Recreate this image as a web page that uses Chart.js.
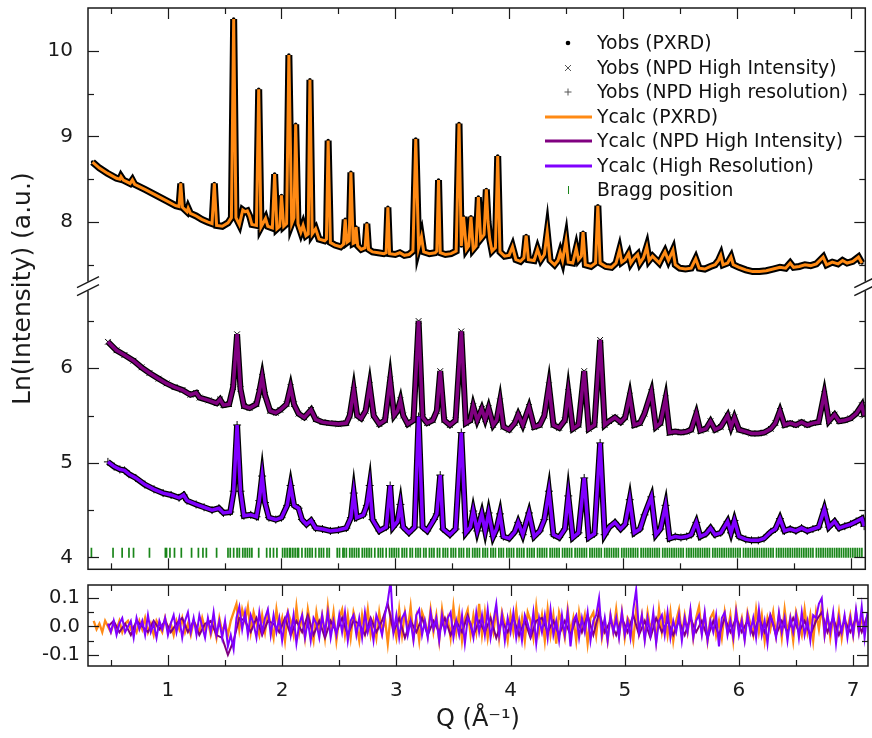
<!DOCTYPE html>
<html>
<head>
<meta charset="utf-8">
<script src="https://cdn.jsdelivr.net/npm/chart.js@4.4.1/dist/chart.umd.min.js"></script>
<style>
  html, body { margin: 0; padding: 0; background: #fff; }
  #wrap { position: relative; width: 872px; height: 738px; overflow: hidden; font-family: 'DejaVu Sans', Verdana, sans-serif; }
  #mainChart { position: absolute; left: 0; top: 0; }
  #residChart { position: absolute; left: 0; top: 576px; }
  .leg { position: absolute; left: 597px; font-size: 18.8px; line-height: 22px; color: #111; white-space: nowrap; }
  .sym { position: absolute; left: 540px; width: 56px; height: 22px; }
</style>
</head>
<body>
<div id="wrap">
  <canvas id="mainChart" width="872" height="576"></canvas>
  <canvas id="residChart" width="872" height="162"></canvas>
  <div id="legend"></div>
</div>
<script>
// Q axis
const qMin = 0.3, qMax = 7.13;
const xMajorTicks = [1, 2, 3, 4, 5, 6, 7];
const xMinorTicks = [0.5, 1.5, 2.5, 3.5, 4.5, 5.5, 6.5];
const yTopTicks = [8, 9, 10];
const yTopMinor = [7.5, 8.5, 9.5];
const yBotTicks = [4, 5, 6];
const yBotMinor = [4.5, 5.5, 6.5];
const residTicks = [-0.1, 0, 0.1];
const residMinor = [-0.05, 0.05];

// [Q, ln(I)]
const pxrdProfile = [[0.34,8.70],[0.40,8.63],[0.47,8.57],[0.55,8.51],[0.58,8.50],[0.59,8.53],[0.61,8.49],[0.67,8.45],[0.69,8.49],[0.71,8.44],[0.80,8.38],[0.90,8.31],[1.00,8.24],[1.07,8.19],[1.10,8.18],[1.115,8.45],[1.13,8.17],[1.17,8.12],[1.18,8.16],[1.20,8.10],[1.25,8.07],[1.30,8.03],[1.35,8.00],[1.39,7.98],[1.41,8.45],[1.43,7.96],[1.48,7.95],[1.53,7.99],[1.56,8.05],[1.58,10.37],[1.60,8.05],[1.63,7.97],[1.66,8.14],[1.68,8.12],[1.70,8.13],[1.72,8.07],[1.74,7.97],[1.78,7.96],[1.80,9.55],[1.82,7.94],[1.86,8.04],[1.88,7.95],[1.92,7.93],[1.94,8.56],[1.96,7.92],[1.985,7.95],[2.00,8.31],[2.02,7.95],[2.045,7.98],[2.065,9.95],[2.09,7.98],[2.11,8.05],[2.125,9.14],[2.145,7.98],[2.17,7.88],[2.19,7.96],[2.215,7.84],[2.235,7.86],[2.25,9.66],[2.27,7.86],[2.30,7.92],[2.33,7.80],[2.38,7.78],[2.395,7.80],[2.41,8.95],[2.43,7.76],[2.47,7.73],[2.52,7.71],[2.545,7.74],[2.56,8.03],[2.575,7.76],[2.595,7.78],[2.61,8.58],[2.63,7.75],[2.645,7.76],[2.655,7.94],[2.67,7.72],[2.70,7.68],[2.735,7.70],[2.75,7.98],[2.765,7.68],[2.80,7.65],[2.85,7.64],[2.90,7.63],[2.92,7.64],[2.935,8.17],[2.95,7.63],[3.00,7.62],[3.04,7.64],[3.08,7.61],[3.12,7.62],[3.155,7.66],[3.18,8.97],[3.205,7.70],[3.23,7.83],[3.25,7.65],[3.30,7.63],[3.35,7.64],[3.365,7.66],[3.38,8.49],[3.395,7.64],[3.44,7.62],[3.49,7.63],[3.535,7.66],[3.56,9.15],[3.58,7.72],[3.60,8.06],[3.625,7.68],[3.645,7.72],[3.665,8.06],[3.685,7.68],[3.71,7.72],[3.73,8.29],[3.75,7.80],[3.78,7.85],[3.80,8.38],[3.815,8.00],[3.83,7.80],[3.85,7.66],[3.88,7.70],[3.90,8.77],[3.92,7.65],[3.96,7.60],[4.00,7.61],[4.03,7.71],[4.06,7.56],[4.10,7.54],[4.13,7.58],[4.15,7.84],[4.17,7.56],[4.22,7.55],[4.25,7.68],[4.28,7.56],[4.31,7.62],[4.335,7.88],[4.36,7.55],[4.40,7.50],[4.43,7.55],[4.45,7.64],[4.47,7.55],[4.50,7.78],[4.52,7.53],[4.56,7.52],[4.59,7.69],[4.61,7.56],[4.635,7.60],[4.65,7.88],[4.67,7.50],[4.72,7.48],[4.76,7.52],[4.78,8.19],[4.80,7.52],[4.85,7.48],[4.90,7.47],[4.94,7.52],[4.97,7.67],[4.99,7.53],[5.02,7.56],[5.05,7.63],[5.07,7.52],[5.10,7.58],[5.13,7.62],[5.15,7.52],[5.18,7.58],[5.21,7.71],[5.23,7.55],[5.26,7.60],[5.29,7.56],[5.32,7.52],[5.35,7.60],[5.37,7.65],[5.40,7.55],[5.44,7.67],[5.46,7.50],[5.50,7.46],[5.55,7.45],[5.60,7.46],[5.64,7.57],[5.67,7.46],[5.72,7.45],[5.77,7.48],[5.81,7.50],[5.84,7.55],[5.86,7.61],[5.88,7.50],[5.92,7.52],[5.95,7.59],[5.97,7.50],[6.02,7.47],[6.08,7.44],[6.14,7.42],[6.20,7.42],[6.26,7.43],[6.32,7.45],[6.38,7.47],[6.43,7.46],[6.47,7.52],[6.50,7.47],[6.55,7.48],[6.60,7.50],[6.65,7.49],[6.70,7.51],[6.76,7.59],[6.79,7.50],[6.84,7.53],[6.89,7.51],[6.93,7.55],[6.97,7.52],[7.02,7.54],[7.07,7.59],[7.10,7.52]];

const npdHiProfile = [[0.475,6.28],[0.55,6.19],[0.62,6.14],[0.70,6.08],[0.77,6.01],[0.84,5.95],[0.92,5.89],[0.99,5.84],[1.06,5.80],[1.13,5.77],[1.20,5.72],[1.25,5.74],[1.28,5.69],[1.36,5.66],[1.43,5.63],[1.46,5.67],[1.49,5.61],[1.54,5.62],[1.575,5.80],[1.61,6.36],[1.64,5.78],[1.67,5.60],[1.72,5.58],[1.78,5.62],[1.805,5.75],[1.83,5.91],[1.855,5.72],[1.90,5.55],[1.95,5.53],[1.99,5.56],[2.045,5.62],[2.08,5.80],[2.11,5.62],[2.15,5.52],[2.20,5.48],[2.26,5.56],[2.30,5.46],[2.36,5.43],[2.42,5.42],[2.50,5.41],[2.57,5.42],[2.60,5.50],[2.635,5.77],[2.665,5.50],[2.70,5.47],[2.74,5.55],[2.775,5.82],[2.81,5.50],[2.86,5.41],[2.91,5.45],[2.955,5.88],[2.99,5.50],[3.02,5.55],[3.045,5.66],[3.07,5.50],[3.11,5.41],[3.16,5.45],[3.205,6.50],[3.24,5.48],[3.28,5.42],[3.33,5.45],[3.365,5.55],[3.395,5.97],[3.43,5.45],[3.48,5.40],[3.53,5.45],[3.58,6.39],[3.62,5.42],[3.66,5.45],[3.685,5.60],[3.72,5.45],[3.76,5.57],[3.79,5.46],[3.82,5.58],[3.86,5.40],[3.89,5.45],[3.92,5.65],[3.95,5.38],[4.00,5.35],[4.05,5.42],[4.08,5.51],[4.12,5.40],[4.175,5.59],[4.22,5.38],[4.27,5.40],[4.31,5.50],[4.35,5.82],[4.39,5.40],[4.44,5.37],[4.49,5.45],[4.52,5.75],[4.56,5.36],[4.61,5.40],[4.66,5.97],[4.70,5.36],[4.75,5.40],[4.80,6.30],[4.84,5.40],[4.88,5.44],[4.93,5.48],[4.98,5.43],[5.02,5.48],[5.06,5.71],[5.10,5.40],[5.15,5.42],[5.19,5.52],[5.25,5.75],[5.29,5.38],[5.33,5.42],[5.375,5.68],[5.41,5.32],[5.46,5.33],[5.51,5.32],[5.56,5.33],[5.60,5.35],[5.645,5.52],[5.68,5.34],[5.73,5.36],[5.77,5.44],[5.81,5.35],[5.86,5.38],[5.92,5.50],[5.95,5.38],[5.98,5.48],[6.02,5.35],[6.08,5.33],[6.13,5.31],[6.19,5.31],[6.24,5.32],[6.30,5.36],[6.34,5.42],[6.38,5.55],[6.42,5.40],[6.47,5.42],[6.52,5.40],[6.57,5.43],[6.62,5.40],[6.67,5.42],[6.72,5.43],[6.77,5.73],[6.81,5.44],[6.86,5.51],[6.90,5.44],[6.95,5.45],[7.00,5.47],[7.05,5.52],[7.10,5.61],[7.12,5.50]];

const npdHrProfile = [[0.475,5.01],[0.53,4.96],[0.58,4.93],[0.62,4.92],[0.66,4.88],[0.72,4.84],[0.80,4.77],[0.88,4.72],[0.96,4.68],[1.03,4.66],[1.10,4.63],[1.14,4.66],[1.17,4.60],[1.25,4.56],[1.32,4.53],[1.39,4.50],[1.45,4.52],[1.49,4.47],[1.55,4.48],[1.58,4.70],[1.61,5.40],[1.64,4.70],[1.67,4.44],[1.73,4.45],[1.78,4.43],[1.805,4.60],[1.83,4.86],[1.855,4.58],[1.89,4.42],[1.95,4.40],[2.00,4.42],[2.05,4.55],[2.08,4.76],[2.11,4.55],[2.15,4.52],[2.18,4.40],[2.22,4.35],[2.26,4.39],[2.30,4.31],[2.36,4.30],[2.43,4.28],[2.50,4.29],[2.57,4.31],[2.61,4.42],[2.635,4.68],[2.66,4.42],[2.72,4.45],[2.75,4.55],[2.775,4.76],[2.80,4.40],[2.86,4.28],[2.92,4.32],[2.955,4.76],[2.98,4.32],[3.02,4.38],[3.045,4.56],[3.07,4.32],[3.12,4.26],[3.17,4.32],[3.205,5.49],[3.24,4.32],[3.28,4.28],[3.34,4.40],[3.365,4.46],[3.395,4.87],[3.42,4.30],[3.48,4.24],[3.53,4.30],[3.58,5.32],[3.62,4.26],[3.66,4.32],[3.685,4.49],[3.72,4.28],[3.76,4.46],[3.79,4.28],[3.82,4.47],[3.86,4.22],[3.89,4.30],[3.92,4.46],[3.95,4.22],[4.00,4.20],[4.05,4.27],[4.08,4.37],[4.12,4.24],[4.175,4.47],[4.22,4.22],[4.27,4.28],[4.31,4.40],[4.35,4.70],[4.39,4.24],[4.44,4.21],[4.49,4.30],[4.52,4.65],[4.56,4.21],[4.61,4.26],[4.66,4.84],[4.70,4.21],[4.75,4.25],[4.80,5.21],[4.84,4.24],[4.88,4.32],[4.93,4.37],[4.98,4.30],[5.02,4.35],[5.06,4.61],[5.10,4.26],[5.15,4.30],[5.19,4.45],[5.25,4.64],[5.29,4.24],[5.33,4.30],[5.375,4.55],[5.41,4.20],[5.46,4.22],[5.51,4.21],[5.56,4.22],[5.60,4.24],[5.645,4.37],[5.68,4.22],[5.73,4.25],[5.77,4.31],[5.81,4.24],[5.86,4.26],[5.92,4.38],[5.95,4.26],[5.98,4.39],[6.02,4.22],[6.08,4.19],[6.13,4.18],[6.19,4.18],[6.24,4.20],[6.30,4.27],[6.34,4.30],[6.38,4.41],[6.42,4.28],[6.47,4.30],[6.52,4.28],[6.57,4.31],[6.62,4.28],[6.67,4.30],[6.72,4.32],[6.77,4.51],[6.81,4.32],[6.86,4.38],[6.90,4.31],[6.95,4.33],[7.00,4.35],[7.05,4.38],[7.10,4.41],[7.12,4.33]];

const braggLevel = 4.05;
const braggQ = [0.33,0.52,0.60,0.66,0.70,0.84,0.98,0.99,1.02,1.06,1.12,1.21,1.27,1.31,1.34,1.43,1.53,1.55,1.58,1.61,1.63,1.66,1.68,1.70,1.72,1.74,1.80,1.87,1.90,1.93,1.96,2.01,2.03,2.05,2.07,2.08,2.10,2.12,2.14,2.15,2.18,2.21,2.23,2.25,2.27,2.30,2.33,2.35,2.37,2.40,2.42,2.49,2.51,2.54,2.55,2.57,2.60,2.62,2.64,2.66,2.68,2.71,2.73,2.75,2.77,2.79,2.82,2.85,2.87,2.89,2.92,2.95,2.97,2.99,
  3.01,3.03,3.06,3.08,3.10,3.13,3.15,3.18,3.20,3.22,3.25,3.27,3.30,3.32,3.34,3.37,3.39,3.42,3.44,3.46,3.49,3.51,3.53,3.56,3.58,3.60,3.63,3.65,3.68,3.70,3.72,3.74,3.77,3.79,3.81,3.84,3.86,3.88,3.91,3.93,3.95,3.98,
  4.00,4.02,4.04,4.07,4.09,4.11,4.13,4.16,4.18,4.20,4.22,4.25,4.27,4.29,4.31,4.33,4.36,4.38,4.40,4.42,4.44,4.47,4.49,4.51,4.53,4.55,4.58,4.60,4.62,4.64,4.66,4.68,4.71,4.73,4.75,4.77,4.79,4.81,4.84,4.86,4.88,4.90,4.92,4.94,4.96,4.99,
  5.01,5.03,5.05,5.07,5.09,5.11,5.13,5.16,5.18,5.20,5.22,5.24,5.26,5.28,5.30,5.32,5.35,5.37,5.39,5.41,5.43,5.45,5.47,5.49,5.51,5.53,5.56,5.58,5.60,5.62,5.64,5.66,5.68,5.70,5.72,5.74,5.76,5.79,5.81,5.83,5.85,5.87,5.89,5.91,5.93,5.95,5.97,5.99,
  6.01,6.03,6.06,6.08,6.10,6.12,6.14,6.16,6.18,6.20,6.22,6.24,6.26,6.28,6.30,6.32,6.35,6.37,6.39,6.41,6.43,6.45,6.47,6.49,6.51,6.53,6.55,6.57,6.59,6.61,6.63,6.65,6.67,6.70,6.72,6.74,6.76,6.78,6.80,6.82,6.84,6.86,6.88,6.90,6.92,6.94,6.96,6.98,7.00,7.02,7.04,7.06,7.08,7.10];

// difference curves: Q grids and values
const qResidX = [0.350,0.375,0.400,0.425,0.450,0.475,0.500,0.525,0.550,0.575,0.600,0.625,0.650,0.675,0.700,0.725,0.750,0.775,0.800,0.825,
  0.850,0.875,0.900,0.925,0.950,0.975,1.000,1.025,1.050,1.075,1.100,1.125,1.150,1.175,1.200,1.225,1.250,1.275,1.300,1.325,
  1.350,1.375,1.400,1.425,1.450,1.475,1.500,1.525,1.550,1.575,1.600,1.625,1.650,1.675,1.700,1.725,1.750,1.775,1.800,1.825,
  1.850,1.875,1.900,1.925,1.950,1.975,2.000,2.025,2.050,2.075,2.100,2.125,2.150,2.175,2.200,2.225,2.250,2.275,2.300,2.325,
  2.350,2.375,2.400,2.425,2.450,2.475,2.500,2.525,2.550,2.575,2.600,2.625,2.650,2.675,2.700,2.725,2.750,2.775,2.800,2.825,
  2.850,2.875,2.900,2.925,2.950,2.975,3.000,3.025,3.050,3.075,3.100,3.125,3.150,3.175,3.200,3.225,3.250,3.275,3.300,3.325,
  3.350,3.375,3.400,3.425,3.450,3.475,3.500,3.525,3.550,3.575,3.600,3.625,3.650,3.675,3.700,3.725,3.750,3.775,3.800,3.825,
  3.850,3.875,3.900,3.925,3.950,3.975,4.000,4.025,4.050,4.075,4.100,4.125,4.150,4.175,4.200,4.225,4.250,4.275,4.300,4.325,
  4.350,4.375,4.400,4.425,4.450,4.475,4.500,4.525,4.550,4.575,4.600,4.625,4.650,4.675,4.700,4.725,4.750,4.775,4.800,4.825,
  4.850,4.875,4.900,4.925,4.950,4.975,5.000,5.025,5.050,5.075,5.100,5.125,5.150,5.175,5.200,5.225,5.250,5.275,5.300,5.325,
  5.350,5.375,5.400,5.425,5.450,5.475,5.500,5.525,5.550,5.575,5.600,5.625,5.650,5.675,5.700,5.725,5.750,5.775,5.800,5.825,
  5.850,5.875,5.900,5.925,5.950,5.975,6.000,6.025,6.050,6.075,6.100,6.125,6.150,6.175,6.200,6.225,6.250,6.275,6.300,6.325,
  6.350,6.375,6.400,6.425,6.450,6.475,6.500,6.525,6.550,6.575,6.600,6.625,6.650,6.675,6.700,6.725,6.750,6.775,6.800,6.825,
  6.850,6.875,6.900,6.925,6.950,6.975,7.000,7.025,7.050,7.075,7.100];
const residPXRD = [0.02,-0.01,0.01,-0.02,0.02,0.00,-0.02,0.01,-0.01,0.02,-0.02,0.01,0.02,-0.01,0.00,-0.02,0.02,-0.01,0.03,-0.02,
  0.01,-0.03,0.02,0.00,-0.02,0.03,-0.01,0.01,-0.03,0.02,-0.01,0.03,-0.02,0.01,-0.03,0.02,0.00,-0.02,0.03,-0.01,
  0.02,-0.03,0.01,-0.04,0.03,-0.02,0.01,-0.03,0.02,0.05,0.08,-0.01,0.06,0.02,0.07,-0.02,0.05,0.01,-0.03,0.04,
  -0.02,0.05,0.01,-0.04,0.06,-0.01,0.03,-0.05,0.05,0.02,-0.03,0.07,-0.02,0.04,-0.04,0.06,0.00,-0.05,0.05,-0.01,
  0.04,-0.04,0.07,-0.02,0.05,-0.05,0.03,0.06,-0.03,0.04,-0.04,0.05,0.01,-0.05,0.04,-0.02,0.06,-0.03,0.02,-0.04,
  0.05,-0.02,0.03,-0.06,0.04,0.01,-0.04,0.06,-0.03,0.05,-0.01,0.07,-0.04,0.03,-0.05,0.05,0.02,-0.03,0.06,-0.02,
  0.04,-0.05,0.06,-0.01,0.03,-0.04,0.07,-0.02,0.05,-0.05,0.03,0.06,-0.03,0.04,-0.02,0.08,-0.03,0.05,-0.04,0.03,
  -0.02,0.06,-0.04,0.05,0.01,-0.05,0.04,-0.02,0.06,-0.03,0.03,-0.05,0.05,0.02,-0.04,0.07,-0.02,0.04,-0.05,0.06,
  -0.03,0.04,-0.06,0.05,0.01,-0.04,0.06,-0.02,0.03,-0.05,0.05,-0.01,0.04,-0.06,0.03,0.05,-0.03,0.06,-0.04,0.02,
  -0.05,0.04,-0.02,0.06,-0.03,0.05,-0.04,0.03,0.01,-0.05,0.06,-0.02,0.04,-0.04,0.05,-0.01,0.03,-0.05,0.06,-0.02,
  0.04,-0.03,0.05,-0.05,0.02,0.06,-0.03,0.04,-0.02,0.05,-0.04,0.03,0.07,-0.02,0.04,-0.05,0.03,0.05,-0.03,0.02,
  -0.04,0.05,-0.02,0.04,-0.05,0.06,-0.01,0.03,-0.04,0.05,0.01,-0.03,0.06,-0.02,0.04,-0.05,0.03,-0.01,0.05,-0.03,
  0.04,-0.04,0.06,-0.02,0.03,-0.05,0.05,0.01,-0.03,0.06,-0.02,0.04,-0.05,0.05,-0.01,0.07,-0.03,0.04,-0.04,0.03,
  -0.02,0.05,-0.04,0.03,-0.01,0.04,-0.03,0.05,-0.02,0.03,-0.01];

const qResidN = [0.475,0.500,0.525,0.550,0.575,0.600,0.625,0.650,0.675,0.700,0.725,0.750,0.775,0.800,0.825,0.850,0.875,0.900,0.925,0.950,
  0.975,1.000,1.025,1.050,1.075,1.100,1.125,1.150,1.175,1.200,1.225,1.250,1.275,1.300,1.325,1.350,1.375,1.400,1.425,1.450,
  1.475,1.500,1.525,1.550,1.575,1.600,1.625,1.650,1.675,1.700,1.725,1.750,1.775,1.800,1.825,1.850,1.875,1.900,1.925,1.950,
  1.975,2.000,2.025,2.050,2.075,2.100,2.125,2.150,2.175,2.200,2.225,2.250,2.275,2.300,2.325,2.350,2.375,2.400,2.425,2.450,
  2.475,2.500,2.525,2.550,2.575,2.600,2.625,2.650,2.675,2.700,2.725,2.750,2.775,2.800,2.825,2.850,2.875,2.900,2.925,2.950,
  2.975,3.000,3.025,3.050,3.075,3.100,3.125,3.150,3.175,3.200,3.225,3.250,3.275,3.300,3.325,3.350,3.375,3.400,3.425,3.450,
  3.475,3.500,3.525,3.550,3.575,3.600,3.625,3.650,3.675,3.700,3.725,3.750,3.775,3.800,3.825,3.850,3.875,3.900,3.925,3.950,
  3.975,4.000,4.025,4.050,4.075,4.100,4.125,4.150,4.175,4.200,4.225,4.250,4.275,4.300,4.325,4.350,4.375,4.400,4.425,4.450,
  4.475,4.500,4.525,4.550,4.575,4.600,4.625,4.650,4.675,4.700,4.725,4.750,4.775,4.800,4.825,4.850,4.875,4.900,4.925,4.950,
  4.975,5.000,5.025,5.050,5.075,5.100,5.125,5.150,5.175,5.200,5.225,5.250,5.275,5.300,5.325,5.350,5.375,5.400,5.425,5.450,
  5.475,5.500,5.525,5.550,5.575,5.600,5.625,5.650,5.675,5.700,5.725,5.750,5.775,5.800,5.825,5.850,5.875,5.900,5.925,5.950,
  5.975,6.000,6.025,6.050,6.075,6.100,6.125,6.150,6.175,6.200,6.225,6.250,6.275,6.300,6.325,6.350,6.375,6.400,6.425,6.450,
  6.475,6.500,6.525,6.550,6.575,6.600,6.625,6.650,6.675,6.700,6.725,6.750,6.775,6.800,6.825,6.850,6.875,6.900,6.925,6.950,
  6.975,7.000,7.025,7.050,7.075,7.100,7.125];
const residHR = [0.01,-0.02,0.02,-0.03,0.01,0.03,-0.02,0.00,0.02,-0.04,0.03,-0.01,0.02,-0.03,0.04,-0.02,0.01,-0.04,0.02,-0.01,
  0.03,-0.03,0.01,0.04,-0.02,0.03,-0.04,0.02,0.05,-0.02,0.03,-0.03,0.04,0.00,-0.04,0.03,-0.02,0.05,-0.03,0.02,
  -0.04,0.02,-0.07,-0.03,-0.08,0.03,0.07,-0.01,0.05,-0.03,0.04,0.01,-0.04,0.05,-0.02,0.03,0.06,-0.03,0.04,-0.02,
  0.03,-0.05,0.02,0.05,-0.03,0.04,-0.06,0.01,0.04,-0.04,0.02,-0.05,0.03,0.01,-0.04,0.04,-0.02,0.05,-0.04,0.02,
  -0.03,0.04,-0.02,0.05,-0.05,0.02,0.04,-0.03,0.03,-0.04,0.05,-0.02,0.02,-0.05,0.04,0.01,-0.03,0.04,0.09,0.16,
  -0.02,0.04,-0.04,0.03,0.05,-0.03,0.02,-0.05,0.04,0.06,-0.03,0.02,-0.04,0.05,-0.01,0.03,-0.05,0.04,-0.02,0.03,
  0.05,-0.04,0.02,-0.03,0.04,-0.06,0.03,0.01,-0.04,0.05,-0.02,0.04,-0.03,0.06,-0.04,0.02,0.08,-0.03,0.04,-0.05,
  0.03,-0.02,0.05,-0.04,0.02,-0.05,0.04,0.01,-0.03,0.05,-0.06,0.03,-0.02,0.04,-0.04,0.06,-0.03,0.02,-0.05,0.04,
  -0.03,0.05,-0.07,0.02,0.04,-0.04,0.03,-0.02,0.05,-0.05,0.02,0.04,0.10,-0.03,0.03,-0.05,0.04,-0.02,0.03,-0.04,
  0.05,-0.03,0.02,-0.04,0.06,0.13,-0.02,0.04,-0.05,0.03,-0.03,0.05,-0.06,0.02,0.04,-0.03,0.05,-0.04,0.02,-0.02,
  0.04,-0.05,0.03,-0.02,0.06,-0.04,0.02,0.04,-0.03,0.05,-0.05,0.02,-0.02,0.04,-0.07,0.03,0.05,-0.03,0.02,-0.04,
  0.05,-0.03,0.02,-0.05,0.04,-0.02,0.03,-0.04,0.06,-0.03,0.02,-0.06,0.04,0.01,-0.04,0.05,-0.02,0.03,-0.05,0.03,
  -0.02,0.04,-0.04,0.05,-0.03,0.02,-0.05,0.04,0.03,0.08,0.10,-0.03,0.04,-0.02,0.05,-0.06,0.03,-0.02,0.04,-0.04,
  0.03,-0.03,0.06,-0.02,0.07,-0.04,0.05];

const qResidHI = [0.475,0.525,0.575,0.625,0.675,0.725,0.775,0.825,0.875,0.925,
  0.975,1.025,1.075,1.125,1.175,1.225,1.275,1.325,1.375,1.425, 1.475,1.525,1.575,1.625,1.675,1.725,1.775,1.825,1.875,1.925,
  1.975,2.025,2.075,2.125,2.175,2.225,2.275,2.325,2.375,2.425, 2.475,2.525,2.575,2.625,2.675,2.725,2.775,2.825,2.875,2.925,
  2.975,3.025,3.075,3.125,3.175,3.225,3.275,3.325,3.375,3.425, 3.475,3.525,3.575,3.625,3.675,3.725,3.775,3.825,3.875,3.925,
  3.975,4.025,4.075,4.125,4.175,4.225,4.275,4.325,4.375,4.425, 4.475,4.525,4.575,4.625,4.675,4.725,4.775,4.825,4.875,4.925,
  4.975,5.025,5.075,5.125,5.175,5.225,5.275,5.325,5.375,5.425, 5.475,5.525,5.575,5.625,5.675,5.725,5.775,5.825,5.875,5.925,
  5.975,6.025,6.075,6.125,6.175,6.225,6.275,6.325,6.375,6.425, 6.475,6.525,6.575,6.625,6.675,6.725,6.775,6.825,6.875,6.925,
  6.975,7.025,7.075,7.125];
const residHI = [0.00,0.02,-0.02,0.01,-0.03,0.02,0.00,-0.02,0.02,-0.01,
  0.02,-0.02,0.01,0.03,-0.02,0.02,-0.03,0.01,0.02,-0.03, -0.04,-0.10,-0.05,0.03,0.02,-0.02,0.03,-0.03,0.02,0.01,
  -0.02,0.03,-0.03,0.02,-0.02,0.04,-0.03,0.02,-0.04,0.02, -0.02,0.03,-0.03,0.02,0.01,-0.03,0.03,-0.02,0.02,0.08,
  -0.02,0.03,-0.04,0.02,-0.02,0.03,-0.03,0.02,-0.02,0.03, -0.03,0.02,-0.02,0.04,-0.03,0.02,-0.02,0.03,-0.04,0.02,
  -0.02,0.03,-0.03,0.02,-0.04,0.02,0.03,-0.02,0.02,-0.03, 0.02,-0.03,0.03,-0.02,0.04,-0.03,0.05,-0.02,0.02,-0.03,
  0.03,-0.02,0.04,-0.03,0.02,-0.04,0.03,-0.02,0.02,-0.03, 0.02,-0.03,0.03,-0.02,0.02,-0.04,0.02,-0.03,0.03,-0.02,
  0.03,-0.02,0.02,-0.03,0.03,-0.02,0.04,-0.03,0.02,-0.02, 0.03,-0.02,0.02,-0.03,0.02,0.05,-0.02,0.03,-0.03,0.02,
  -0.02,0.03,-0.02,0.04];

const legendLabels = ['Yobs (PXRD)', 'Yobs (NPD High Intensity)', 'Yobs (NPD High resolution)', 'Ycalc (PXRD)', 'Ycalc (NPD High Intensity)', 'Ycalc (High Resolution)', 'Bragg position'];

const cOrange = '#ff8a14', cPurple = '#800080', cViolet = '#8000ff', cGreen = '#1a861a', cInk = '#1a1a1a';

Chart.defaults.font.family = "'DejaVu Sans', Verdana, sans-serif";
Chart.defaults.color = cInk;

const pairs = arr => arr.map(p => ({ x: p[0], y: p[1] }));
const zipXY = (qs, ys) => qs.map((q, i) => ({ x: q, y: ys[i] }));

// frame, inward ticks, axis break, y title
const frameTicks = {
  id: 'frameTicks',
  afterDatasetsDraw(chart, args, opts) {
    const { ctx, chartArea: a, scales } = chart;
    const seg = (x1, y1, x2, y2) => { ctx.beginPath(); ctx.moveTo(x1, y1); ctx.lineTo(x2, y2); ctx.stroke(); };
    ctx.save();
    ctx.strokeStyle = cInk;
    ctx.lineWidth = 1.5;
    ctx.strokeRect(a.left, a.top, a.right - a.left, a.bottom - a.top);
    ctx.lineWidth = 1.2;
    const xs = scales.x;
    [[xMajorTicks, 11], [xMinorTicks, 6]].forEach(([vals, len]) => vals.forEach(v => {
      const p = Math.round(xs.getPixelForValue(v)) + 0.5;
      seg(p, a.top, p, a.top + len);
      seg(p, a.bottom, p, a.bottom - len);
    }));
    (opts.yAxes || []).forEach(ax => {
      const s = scales[ax.id];
      [[ax.major, 11], [ax.minor, 6]].forEach(([vals, len]) => vals.forEach(v => {
        const p = Math.round(s.getPixelForValue(v)) + 0.5;
        seg(a.left, p, a.left + len, p);
        seg(a.right, p, a.right - len, p);
      }));
    });
    if (opts.breakAt) {
      const yb = scales[opts.breakAt].bottom;
      ctx.fillStyle = '#fff';
      ctx.fillRect(a.left - 2, yb - 5, 4, 9);
      ctx.fillRect(a.right - 2, yb - 5, 4, 9);
      ctx.lineWidth = 1.5;
      [a.left, a.right].forEach(xb => {
        seg(xb - 11, yb + 1, xb + 11, yb - 10);
        seg(xb - 11, yb + 9, xb + 11, yb - 2);
      });
    }
    if (opts.yTitle) {
      ctx.fillStyle = cInk;
      ctx.font = "25px 'DejaVu Sans', Verdana, sans-serif";
      ctx.textAlign = 'center';
      ctx.textBaseline = 'middle';
      ctx.translate(23, (a.top + a.bottom) / 2);
      ctx.rotate(-Math.PI / 2);
      ctx.fillText(opts.yTitle, 0, 0);
    }
    ctx.restore();
  }
};

const yAxisBase = (ticks, fontSize, pad) => ({
  type: 'linear',
  position: 'left',
  grid: { display: false, drawTicks: false },
  border: { display: false },
  afterBuildTicks: s => { s.ticks = ticks.map(v => ({ value: v })); },
  afterFit: s => { s.width = 88; s.paddingTop = 0; s.paddingBottom = 0; },
  ticks: { font: { size: fontSize }, padding: pad, color: cInk }
});

new Chart(document.getElementById('mainChart'), {
  type: 'line',
  data: {
    datasets: [
      { label: 'Ycalc (PXRD)', data: pairs(pxrdProfile), yAxisID: 'yTop', borderColor: cOrange, borderWidth: 3, pointRadius: 0, order: 0 },
      { label: 'Yobs (PXRD)', data: pairs(pxrdProfile), yAxisID: 'yTop', borderColor: '#000', borderWidth: 7, pointRadius: 1.8, pointBackgroundColor: '#000', pointBorderWidth: 0, order: 1 },
      { label: 'Ycalc (NPD High Intensity)', data: pairs(npdHiProfile), yAxisID: 'yBot', borderColor: cPurple, borderWidth: 3.5, pointRadius: 0, order: 0 },
      { label: 'Yobs (NPD High Intensity)', data: pairs(npdHiProfile), yAxisID: 'yBot', borderColor: '#000', borderWidth: 6, pointStyle: 'crossRot', pointRadius: 4, pointBorderColor: '#000', pointBorderWidth: 1, order: 1 },
      { label: 'Ycalc (High Resolution)', data: pairs(npdHrProfile), yAxisID: 'yBot', borderColor: cViolet, borderWidth: 3.5, pointRadius: 0, order: 0 },
      { label: 'Yobs (NPD High resolution)', data: pairs(npdHrProfile), yAxisID: 'yBot', borderColor: '#000', borderWidth: 6, pointStyle: 'cross', pointRadius: 4, pointBorderColor: '#000', pointBorderWidth: 1, order: 1 },
      { label: 'Bragg position', data: braggQ.map(q => ({ x: q, y: braggLevel })), yAxisID: 'yBot', showLine: false, pointStyle: 'line', rotation: 90, pointRadius: 5, pointBorderColor: cGreen, pointBorderWidth: 1.7, order: 2 }
    ]
  },
  options: {
    responsive: false,
    animation: false,
    devicePixelRatio: 1,
    layout: { padding: { left: 0, right: 4, top: 8, bottom: 4 } },
    plugins: {
      legend: { display: false },
      tooltip: { enabled: false },
      frameTicks: {
        yAxes: [{ id: 'yTop', major: yTopTicks, minor: yTopMinor }, { id: 'yBot', major: yBotTicks, minor: yBotMinor }],
        breakAt: 'yTop',
        yTitle: 'Ln(Intensity) (a.u.)'
      }
    },
    scales: {
      x: { type: 'linear', min: qMin, max: qMax, display: false },
      yTop: Object.assign(yAxisBase(yTopTicks, 20, 15), { stack: 'main', stackWeight: 280, weight: 2, min: 7.244, max: 10.5 }),
      yBot: Object.assign(yAxisBase(yBotTicks, 20, 15), { stack: 'main', stackWeight: 284, weight: 1, min: 3.874, max: 6.863 })
    }
  },
  plugins: [frameTicks]
});

new Chart(document.getElementById('residChart'), {
  type: 'line',
  data: {
    datasets: [
      { label: 'diff PXRD', data: zipXY(qResidX, residPXRD), borderColor: cOrange, borderWidth: 2.3, pointRadius: 0, order: 2 },
      { label: 'diff NPD HI', data: zipXY(qResidHI, residHI), borderColor: cPurple, borderWidth: 2, pointRadius: 0, order: 1 },
      { label: 'diff NPD HR', data: zipXY(qResidN, residHR), borderColor: cViolet, borderWidth: 2, pointRadius: 0, order: 0 }
    ]
  },
  options: {
    responsive: false,
    animation: false,
    devicePixelRatio: 1,
    layout: { padding: { left: 0, right: 4, top: 9, bottom: 0 } },
    plugins: {
      legend: { display: false },
      tooltip: { enabled: false },
      frameTicks: { yAxes: [{ id: 'y', major: residTicks, minor: residMinor }] }
    },
    scales: {
      x: {
        type: 'linear', min: qMin, max: qMax, position: 'bottom',
        grid: { display: false, drawTicks: false },
        border: { display: false },
        afterBuildTicks: s => { s.ticks = xMajorTicks.map(v => ({ value: v })); },
        afterFit: s => { s.height = 72; s.paddingLeft = 0; s.paddingRight = 0; },
        ticks: { font: { size: 20 }, padding: 13, maxRotation: 0, autoSkip: false, color: cInk },
        title: { display: true, text: 'Q (Å⁻¹)', font: { size: 24 }, color: cInk, padding: { top: 0, bottom: 4 } }
      },
      y: Object.assign(yAxisBase(residTicks, 19, 8), {
        min: -0.139, max: 0.146,
        ticks: { font: { size: 19.5 }, padding: 8, color: cInk, callback: v => v.toFixed(1) }
      })
    }
  },
  plugins: [frameTicks]
});

// legend as html
const legendSymbols = [
  '<circle cx="28" cy="11" r="2.3" fill="#000"/>',
  '<path d="M25 8 L31 14 M31 8 L25 14" stroke="#555" stroke-width="1"/>',
  '<path d="M28 7.5 L28 14.5 M24.5 11 L31.5 11" stroke="#555" stroke-width="1"/>',
  '<rect x="5" y="9.5" width="47" height="3" fill="' + cOrange + '"/>',
  '<rect x="5" y="9.5" width="47" height="3" fill="' + cPurple + '"/>',
  '<rect x="5" y="9.5" width="47" height="3" fill="' + cViolet + '"/>',
  '<path d="M28.5 7 L28.5 15" stroke="' + cGreen + '" stroke-width="1"/>'
];
const legendEl = document.getElementById('legend');
legendLabels.forEach((txt, i) => {
  const cy = 43 + i * 24.5;
  const sym = document.createElement('div');
  sym.className = 'sym';
  sym.style.top = (cy - 11) + 'px';
  sym.innerHTML = '<svg width="56" height="22">' + legendSymbols[i] + '</svg>';
  legendEl.appendChild(sym);
  const lab = document.createElement('div');
  lab.className = 'leg';
  lab.style.top = (cy - 11) + 'px';
  lab.textContent = txt;
  legendEl.appendChild(lab);
});
</script>
</body>
</html>
